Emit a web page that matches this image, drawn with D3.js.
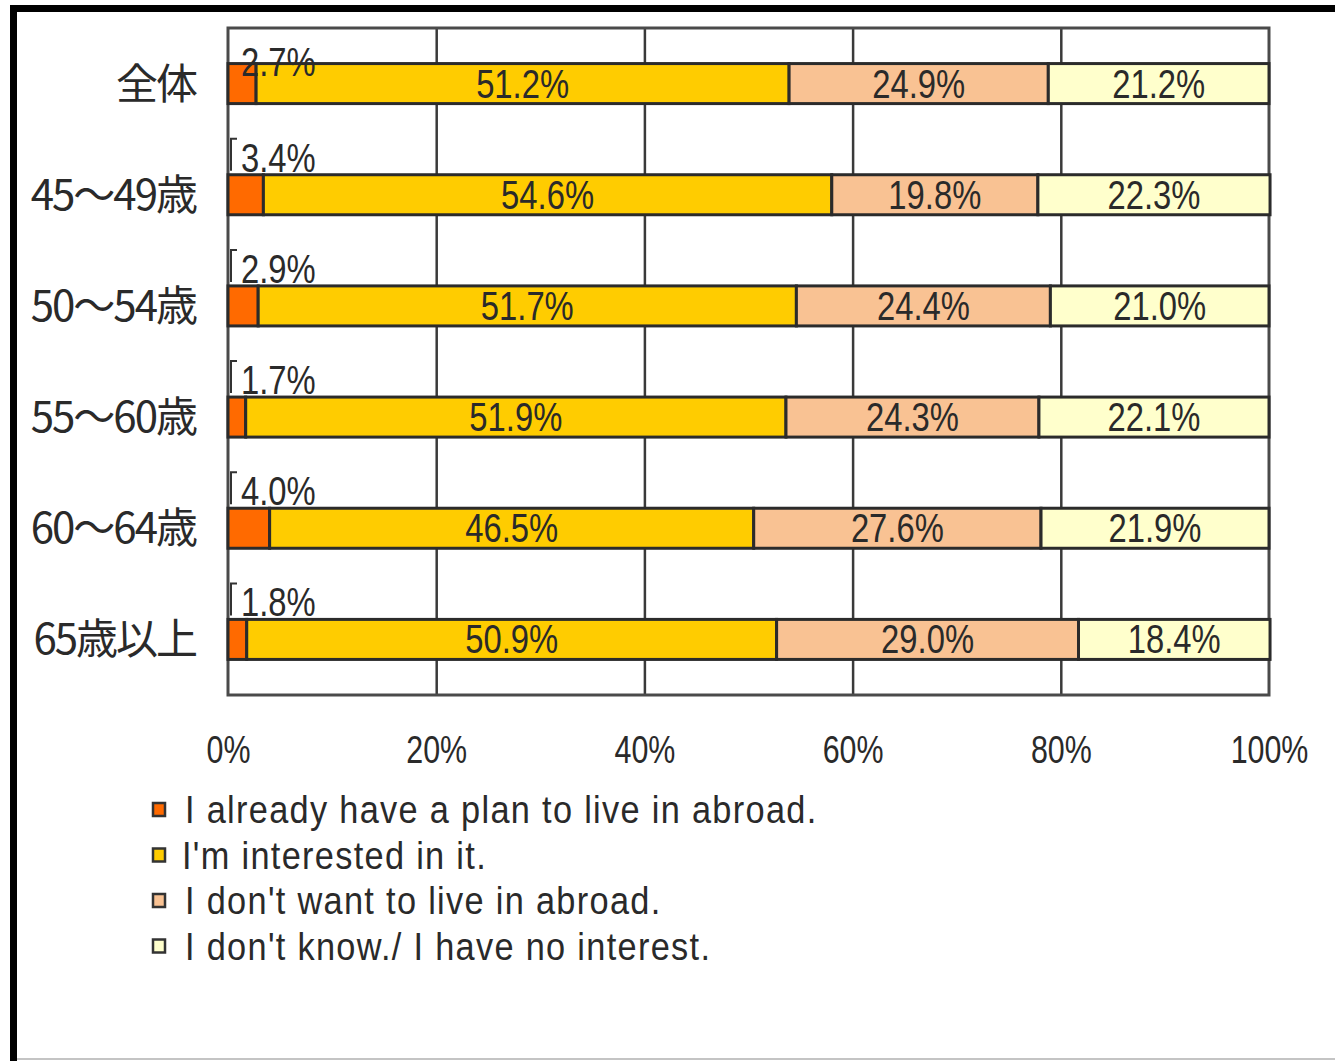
<!DOCTYPE html>
<html><head>
<meta charset="utf-8">
<title>海外居住意向</title>
<script src="https://d3js.org/d3.v7.min.js"></script>
<style>
  body { margin: 0; background: #fff; }
  svg text { fill: #2a2a2a; }
  .num { font-family: "Liberation Sans", Arial, sans-serif; }
  .cat { font-family: "Noto Sans CJK JP", sans-serif; }
</style>
</head>
<body>
<svg id="chart" width="1335" height="1061"></svg>

<script>
// data
const categories = ["全体", "45～49歳", "50～54歳", "55～60歳", "60～64歳", "65歳以上"];
const seriesNames = [
  "I already have a plan to live in abroad.",
  "I'm interested in it.",
  "I don't want to live in abroad.",
  "I don't know./ I have no interest."
];
const planValues      = [2.7, 3.4, 2.9, 1.7, 4.0, 1.8];
const interestValues  = [51.2, 54.6, 51.7, 51.9, 46.5, 50.9];
const dontWantValues  = [24.9, 19.8, 24.4, 24.3, 27.6, 29.0];
const dontKnowValues  = [21.2, 22.3, 21.0, 22.1, 21.9, 18.4];
const xTicks = [0, 20, 40, 60, 80, 100];

const colors = ["#ff6a00", "#ffcc00", "#f9c293", "#ffffcc"];

const svg = d3.select("#chart");

// frame around the picture (top + left black, thin grey bottom)
svg.append("line").attr("x1", 10).attr("x2", 1335).attr("y1", 8.5).attr("y2", 8.5)
   .attr("stroke", "#000").attr("stroke-width", 7);
svg.append("line").attr("x1", 13.5).attr("x2", 13.5).attr("y1", 5).attr("y2", 1061)
   .attr("stroke", "#000").attr("stroke-width", 7);
svg.append("line").attr("x1", 17).attr("x2", 1335).attr("y1", 1059).attr("y2", 1059)
   .attr("stroke", "#c4c4c4").attr("stroke-width", 2);

const plotLeft = 228, plotRight = 1269, plotTop = 28, plotBottom = 695;

const x = d3.scaleLinear().domain([0, 100]).range([plotLeft, plotRight]);
const y = d3.scaleBand().domain(categories).range([plotTop, plotBottom]).paddingInner(0.64).paddingOuter(0.32);

// build stacked rows
const rows = categories.map((c, i) => ({
  cat: c,
  vals: [planValues[i], interestValues[i], dontWantValues[i], dontKnowValues[i]]
}));
const segs = [];
rows.forEach((r, i) => {
  let acc = 0;
  r.vals.forEach((v, k) => {
    segs.push({ cat: r.cat, row: i, k: k, v: v, x0: acc, x1: acc + v });
    acc += v;
  });
});

// grid lines
svg.append("g")
   .attr("transform", "translate(0," + plotBottom + ")")
   .call(d3.axisBottom(x).tickValues(xTicks.slice(1, -1)).tickSize(-(plotBottom - plotTop)).tickFormat(""))
   .call(g => g.select(".domain").remove())
   .call(g => g.selectAll("line").attr("stroke", "#3a3a3a").attr("stroke-width", 2.5));

// plot border
svg.append("rect").attr("x", plotLeft).attr("y", plotTop).attr("width", plotRight - plotLeft).attr("height", plotBottom - plotTop)
   .attr("fill", "none").attr("stroke", "#4a4a4a").attr("stroke-width", 3);

// bars
svg.append("g").selectAll("rect").data(segs).join("rect")
   .attr("x", d => x(d.x0))
   .attr("y", d => y(d.cat))
   .attr("width", d => x(d.x1) - x(d.x0))
   .attr("height", y.bandwidth())
   .attr("fill", d => colors[d.k])
   .attr("stroke", "#2b2b2b")
   .attr("stroke-width", 3);

// narrow text helper: the original font is tall and condensed
const squeeze = 0.82;

// labels inside bars
svg.append("g").selectAll("text").data(segs.filter(d => d.k > 0)).join("text")
   .attr("class", "num")
   .attr("transform", d => "translate(" + x((d.x0 + d.x1) / 2) + "," + (y(d.cat) + y.bandwidth() / 2 + 14) + ") scale(" + squeeze + ",1)")
   .attr("text-anchor", "middle")
   .attr("font-size", 40)
   .text(d => d.v.toFixed(1) + "%");

// small first-segment labels above the bars, with leader
const small = segs.filter(d => d.k === 0);
svg.append("g").selectAll("path").data(small.slice(1)).join("path")
   .attr("d", d => {
     const yt = y(d.cat) - 36;
     return "M" + (x(0) + 9) + "," + yt + "H" + (x(0) + 3) + "V" + (y(d.cat) - 4);
   })
   .attr("fill", "none").attr("stroke", "#333").attr("stroke-width", 2);
svg.append("g").selectAll("text").data(small).join("text")
   .attr("class", "num")
   .attr("transform", (d, i) => "translate(" + (x(0) + 13) + "," + (y(d.cat) + (i === 0 ? 12 : -3)) + ") scale(" + squeeze + ",1)")
   .attr("font-size", 40)
   .text(d => d.v.toFixed(1) + "%");

// category labels
svg.append("g").selectAll("text").data(categories).join("text")
   .attr("class", "cat")
   .attr("x", 196)
   .attr("y", d => y(d) + y.bandwidth() / 2 + 15)
   .attr("text-anchor", "end")
   .attr("font-size", 42)
   .attr("letter-spacing", -2)
   .text(d => d);

// x axis labels
svg.append("g")
   .attr("transform", "translate(0," + plotBottom + ")")
   .call(d3.axisBottom(x).tickValues(xTicks).tickSize(0).tickPadding(41).tickFormat(d => d + "%"))
   .call(g => g.select(".domain").remove())
   .call(g => g.selectAll("text").attr("class", "num").attr("font-size", 38)
                .attr("transform", "scale(0.8,1)").attr("fill", "#2a2a2a"));

// legend
const legend = svg.append("g").selectAll("g").data(seriesNames).join("g")
   .attr("transform", (d, i) => "translate(153," + (810 + i * 45.5) + ")");
legend.append("rect")
   .attr("x", 0).attr("y", -7).attr("width", 12).attr("height", 13)
   .attr("fill", (d, i) => colors[i]).attr("stroke", "#333").attr("stroke-width", 2.5);
legend.append("text")
   .attr("class", "num")
   .attr("transform", (d, i) => "translate(" + (i === 1 ? 29 : 32) + ",13) scale(0.88,1)")
   .attr("font-size", 39)
   .attr("letter-spacing", 1.5)
   .text(d => d);
</script>
</body></html>
